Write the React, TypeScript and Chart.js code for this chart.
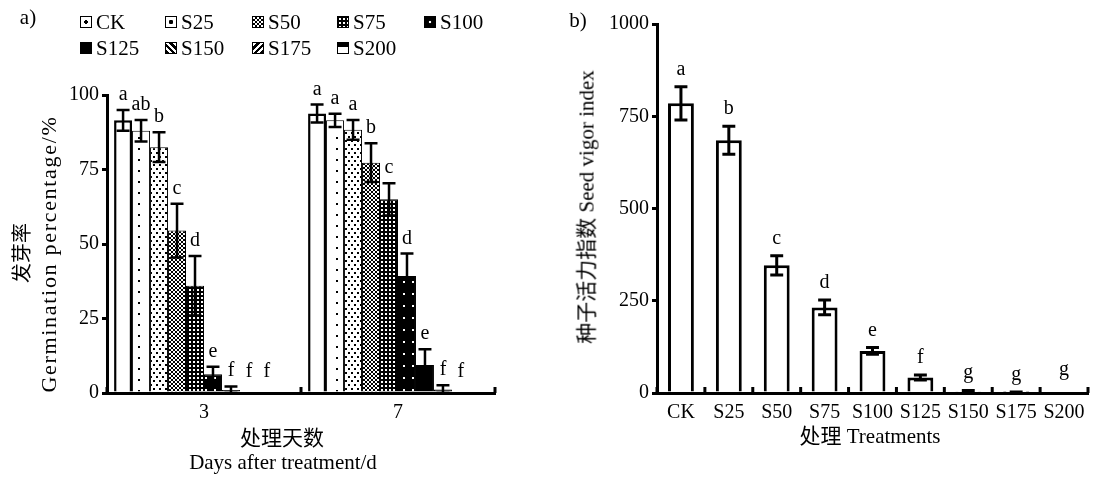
import React, { useEffect, useRef } from 'react';
import { Chart, registerables } from 'chart.js';
Chart.register(...registerables);

// ---------- data ----------
const days = ['3', '7'];
const treatments = ['CK', 'S25', 'S50', 'S75', 'S100', 'S125', 'S150', 'S175', 'S200'];

const germDay3 = [91.5, 88.0, 82.5, 54.5, 36.0, 6.3, 1.0, 0, 0];
const germErrDay3 = [3.5, 3.6, 5.0, 9.0, 10.0, 2.5, 1.2, 0, 0];
const germLettersDay3 = ['a', 'ab', 'b', 'c', 'd', 'e', 'f', 'f', 'f'];

const germDay7 = [93.8, 91.5, 88.3, 77.3, 65.0, 39.3, 9.4, 1.2, 0];
const germErrDay7 = [3.0, 2.2, 3.3, 6.5, 5.4, 7.5, 5.3, 1.4, 0];
const germLettersDay7 = ['a', 'a', 'a', 'b', 'c', 'd', 'e', 'f', 'f'];

const vigorMean = [785, 685, 346, 232, 114, 42, 5, 2, 0];
const vigorErr = [45, 38, 26, 20, 9, 7, 2, 1, 0];
const vigorLetters = ['a', 'b', 'c', 'd', 'e', 'f', 'g', 'g', 'g'];

const germTicks = [0, 25, 50, 75, 100];
const vigorTicks = [0, 250, 500, 750, 1000];

const barPatternKinds = ['white', 'sparseDots', 'dots', 'cross', 'darkGrid', 'blackDots', 'black', 'black', 'white'];

const FONT = '"Liberation Serif", "Noto Sans CJK SC", serif';

// ---------- patterns ----------
function makePattern(kind: string): any {
  if (kind === 'white') return '#ffffff';
  if (kind === 'black') return '#000000';
  const c = document.createElement('canvas');
  const g = c.getContext('2d')!;
  const setup = (w: number, h: number, bg: string) => {
    c.width = w; c.height = h;
    g.fillStyle = bg; g.fillRect(0, 0, w, h);
  };
  if (kind === 'sparseDots') {
    setup(18, 11, '#fff');
    g.fillStyle = '#000'; g.fillRect(12, 5, 2, 2);
  } else if (kind === 'dots') {
    setup(6, 8, '#fff');
    g.fillStyle = '#000'; g.fillRect(0, 0, 2, 2); g.fillRect(3, 4, 2, 2);
  } else if (kind === 'cross') {
    setup(4, 4, '#fff');
    g.fillStyle = '#000';
    for (let i = 0; i < 4; i++) { g.fillRect(i, i, 1, 1); g.fillRect(i, 3 - i, 1, 1); }
  } else if (kind === 'darkGrid') {
    setup(4, 4, '#000');
    g.fillStyle = '#fff'; g.fillRect(1, 1, 2, 2);
  } else if (kind === 'blackDots') {
    setup(9, 12, '#000');
    g.fillStyle = '#fff'; g.fillRect(7, 5, 2, 2);
  }
  return g.createPattern(c, 'repeat');
}

// ---------- plugins ----------
const errorLetterPlugin = {
  id: 'errLetters',
  afterDatasetsDraw(chart: any, _args: any, opts: any) {
    const ctx = chart.ctx;
    const ys = chart.scales.y;
    ctx.save();
    chart.data.datasets.forEach((ds: any, di: number) => {
      if (!ds.errors) return;
      const meta = chart.getDatasetMeta(di);
      meta.data.forEach((bar: any, i: number) => {
        const v = ds.data[i];
        if (v === null || v === undefined) return;
        const e = ds.errors[i] || 0;
        const x = bar.x;
        const cap = bar.width * opts.capRatio;
        const top = ys.getPixelForValue(v + e);
        if (e > 0) {
          const bot = ys.getPixelForValue(Math.max(v - e, 0));
          ctx.strokeStyle = '#000';
          ctx.lineWidth = opts.lineWidth;
          ctx.beginPath();
          ctx.moveTo(x, bot); ctx.lineTo(x, top);
          ctx.moveTo(x - cap / 2, top); ctx.lineTo(x + cap / 2, top);
          ctx.moveTo(x - cap / 2, bot); ctx.lineTo(x + cap / 2, bot);
          ctx.stroke();
        }
        const L = ds.letters ? ds.letters[i] : '';
        if (L) {
          ctx.fillStyle = '#000';
          ctx.font = `20px ${FONT}`;
          ctx.textAlign = 'center';
          ctx.textBaseline = 'alphabetic';
          ctx.fillText(L, x, top - opts.gap - (e > 0 ? 0 : opts.zeroExtra));
        }
      });
    });
    ctx.restore();
  },
};

const xTickPlugin = {
  id: 'xInnerTicks',
  afterDraw(chart: any, _args: any, opts: any) {
    const xs = chart.scales.x;
    const n = chart.data.labels.length;
    const ctx = chart.ctx;
    ctx.save();
    ctx.strokeStyle = '#000';
    ctx.lineWidth = 3;
    ctx.beginPath();
    for (let i = 0; i <= n; i++) {
      const x = xs.left + (xs.width * i) / n;
      ctx.moveTo(x, xs.top);
      ctx.lineTo(x, xs.top - opts.len);
    }
    ctx.stroke();
    ctx.restore();
  },
};

function yScale(ticks: number[], width: number) {
  return {
    min: ticks[0],
    max: ticks[ticks.length - 1],
    afterBuildTicks(scale: any) { scale.ticks = ticks.map((v) => ({ value: v })); },
    afterFit(scale: any) { scale.width = width; },
    border: { display: true, color: '#000', width: 3 },
    grid: { display: true, drawOnChartArea: false, drawTicks: true, tickLength: 5, color: '#000', lineWidth: 3 },
    ticks: { color: '#000', padding: 3, font: { family: FONT, size: 20 }, callback: (v: any) => String(v) },
  };
}

function xScale(height: number, extra: any = {}) {
  return {
    afterFit(scale: any) { scale.height = height; },
    border: { display: true, color: '#000', width: 3 },
    grid: { display: false, drawTicks: false },
    ticks: { color: '#000', padding: 8, font: { family: FONT, size: 20 }, maxRotation: 0, autoSkip: false },
    ...extra,
  };
}

// ---------- charts ----------
function GerminationChart() {
  const ref = useRef<HTMLCanvasElement>(null);
  useEffect(() => {
    const datasets: any[] = treatments.map((t, i) => ({
      label: t,
      data: [germDay3[i], germDay7[i]],
      errors: [germErrDay3[i], germErrDay7[i]],
      letters: [germLettersDay3[i], germLettersDay7[i]],
      backgroundColor: makePattern(barPatternKinds[i]),
      borderColor: '#000',
      borderWidth: i === 0 ? 2.5 : 1,
      barPercentage: 1,
      categoryPercentage: 0.927,
    }));
    // empty slot that completes each group of ten
    datasets.push({ label: '', data: [null, null], barPercentage: 1, categoryPercentage: 0.927 });
    const chart = new Chart(ref.current!, {
      type: 'bar',
      data: { labels: days, datasets },
      options: {
        responsive: false,
        animation: false,
        layout: { padding: { left: 0, right: 45, top: 95, bottom: 0 } },
        scales: { x: xScale(85), y: yScale(germTicks, 107) as any },
        plugins: {
          legend: { display: false },
          tooltip: { enabled: false },
          errLetters: { capRatio: 0.72, lineWidth: 2.5, gap: 10, zeroExtra: 6 },
          xInnerTicks: { len: 6 },
        } as any,
      },
      plugins: [errorLetterPlugin, xTickPlugin],
    });
    return () => chart.destroy();
  }, []);
  return <canvas ref={ref} width={540} height={478} style={{ position: 'absolute', left: 0, top: 0 }} />;
}

function VigorChart() {
  const ref = useRef<HTMLCanvasElement>(null);
  useEffect(() => {
    const chart = new Chart(ref.current!, {
      type: 'bar',
      data: {
        labels: treatments,
        datasets: [{
          label: 'vigor',
          data: vigorMean,
          errors: vigorErr,
          letters: vigorLetters,
          backgroundColor: '#fff',
          borderColor: '#000',
          borderWidth: 3,
          barPercentage: 0.54,
          categoryPercentage: 1,
        } as any],
      },
      options: {
        responsive: false,
        animation: false,
        layout: { padding: { left: 0, right: 5, top: 24, bottom: 0 } },
        scales: { x: xScale(85), y: yScale(vigorTicks, 117) as any },
        plugins: {
          legend: { display: false },
          tooltip: { enabled: false },
          errLetters: { capRatio: 0.5, lineWidth: 3, gap: 12, zeroExtra: 6 },
          xInnerTicks: { len: 6 },
        } as any,
      },
      plugins: [errorLetterPlugin, xTickPlugin],
    });
    return () => chart.destroy();
  }, []);
  return <canvas ref={ref} width={553} height={478} style={{ position: 'absolute', left: 540, top: 0 }} />;
}

// ---------- legend ----------
const legendIconStyles: Record<string, React.CSSProperties> = {
  CK: { background: 'radial-gradient(circle, #000 0 1.6px, #fff 2px)' },
  S25: { background: 'radial-gradient(circle, #000 0 2px, #fff 2.4px)' },
  S50: { background: 'repeating-conic-gradient(#000 0 25%, #fff 0 50%) 0 0/4px 4px' },
  S75: { background: 'radial-gradient(circle, #fff 0 1px, #000 1.4px) 0 0/4px 4px' },
  S100: { background: 'radial-gradient(circle, #fff 0 1.2px, #000 1.6px)' },
  S125: { background: '#000' },
  S150: { background: 'repeating-linear-gradient(45deg, #000 0 2.5px, #fff 2.5px 4.5px)' },
  S175: { background: 'repeating-linear-gradient(-45deg, #000 0 2.5px, #fff 2.5px 4.5px)' },
  S200: { background: 'linear-gradient(#000 0 4px, #fff 4px)' },
};

const legendCols = [80, 165, 252, 337, 424];
const legendRows = [22, 48];

function Legend() {
  return (
    <>
      {treatments.map((t, i) => {
        const col = i < 5 ? i : i - 5;
        const row = i < 5 ? 0 : 1;
        const x = legendCols[col];
        const y = legendRows[row];
        return (
          <div key={t} style={{ position: 'absolute', left: x, top: y - 11, height: 22, display: 'flex', alignItems: 'center', whiteSpace: 'nowrap' }}>
            <span style={{ display: 'inline-block', width: 10, height: 10, border: '1.5px solid #000', boxSizing: 'content-box', ...legendIconStyles[t] }} />
            <span style={{ marginLeft: 4, fontFamily: FONT, fontSize: 21, lineHeight: '22px', color: '#000' }}>{t}</span>
          </div>
        );
      })}
    </>
  );
}

function Text({ x, y, children, rotate = false, size = 21, spacing = 0 }: any) {
  return (
    <div style={{
      position: 'absolute', left: x, top: y, whiteSpace: 'nowrap',
      transform: `translate(-50%, -50%)${rotate ? ' rotate(-90deg)' : ''}`,
      fontFamily: FONT, fontSize: size, lineHeight: 1, color: '#000', letterSpacing: spacing,
    }}>{children}</div>
  );
}

export default function App() {
  return (
    <div style={{ position: 'fixed', left: 0, top: 0, width: 1093, height: 478, background: '#fff', overflow: 'hidden' }}>
      <GerminationChart />
      <VigorChart />
      <Legend />
      <Text x={28} y={17}>a)</Text>
      <Text x={578} y={20}>b)</Text>
      <Text x={22} y={253} rotate size={20}>发芽率</Text>
      <Text x={49} y={254} rotate size={22} spacing={1.7}>Germination percentage/%</Text>
      <Text x={282} y={438}>处理天数</Text>
      <Text x={283} y={462}>Days after treatment/d</Text>
      <Text x={587} y={207} rotate>种子活力指数 Seed vigor index</Text>
      <Text x={870} y={436}>处理 Treatments</Text>
    </div>
  );
}
